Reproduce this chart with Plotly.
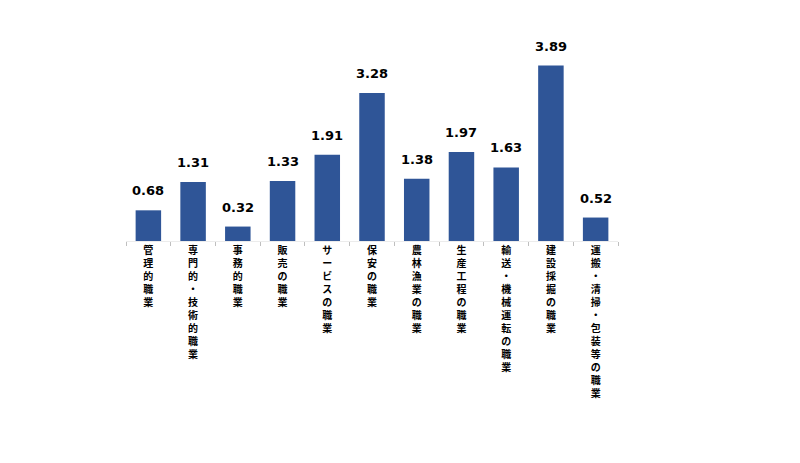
import plotly.graph_objects as go

# Data
categories = ["管理的職業", "専門的・技術的職業", "事務的職業", "販売の職業",
              "サービスの職業", "保安の職業", "農林漁業の職業", "生産工程の職業",
              "輸送・機械運転の職業", "建設採掘の職業", "運搬・清掃・包装等の職業"]
values = [0.68, 1.31, 0.32, 1.33, 1.91, 3.28, 1.38, 1.97, 1.63, 3.89, 0.52]

# vertical labels: one character per line
tick_text = ["<br>".join(list(c)) for c in categories]

bar_color = "#2F5597"

fig = go.Figure()
fig.add_trace(go.Bar(
    x=categories,
    y=values,
    marker=dict(color=bar_color, line=dict(width=0)),
    width=0.57,
    hoverinfo="x+y",
))

# value labels above bars
for c, v in zip(categories, values):
    fig.add_annotation(
        x=c, y=v, text="%.2f" % v,
        showarrow=False, yanchor="bottom", yshift=10,
        font=dict(family="DejaVu Sans", size=13, color="#000000", weight="bold"),
    )

fig.update_layout(
    width=800, height=463,
    margin=dict(l=118, r=190, t=39, b=230),
    paper_bgcolor="white",
    plot_bgcolor="white",
    showlegend=False,
    xaxis=dict(
        tickmode="array",
        tickvals=categories,
        ticktext=tick_text,
        tickangle=0,
        tickson="boundaries",
        ticks="outside",
        ticklen=4,
        tickcolor="#bfbfbf",
        showline=True,
        linecolor="#ececec",
        linewidth=1,
        showgrid=False,
        tickfont=dict(family="Noto Sans CJK JP", size=10, color="#000000", weight="bold"),
    ),
    yaxis=dict(
        range=[0, 4.3],
        visible=False,
        showgrid=False,
        zeroline=False,
    ),
)

fig.write_html("out.html")
